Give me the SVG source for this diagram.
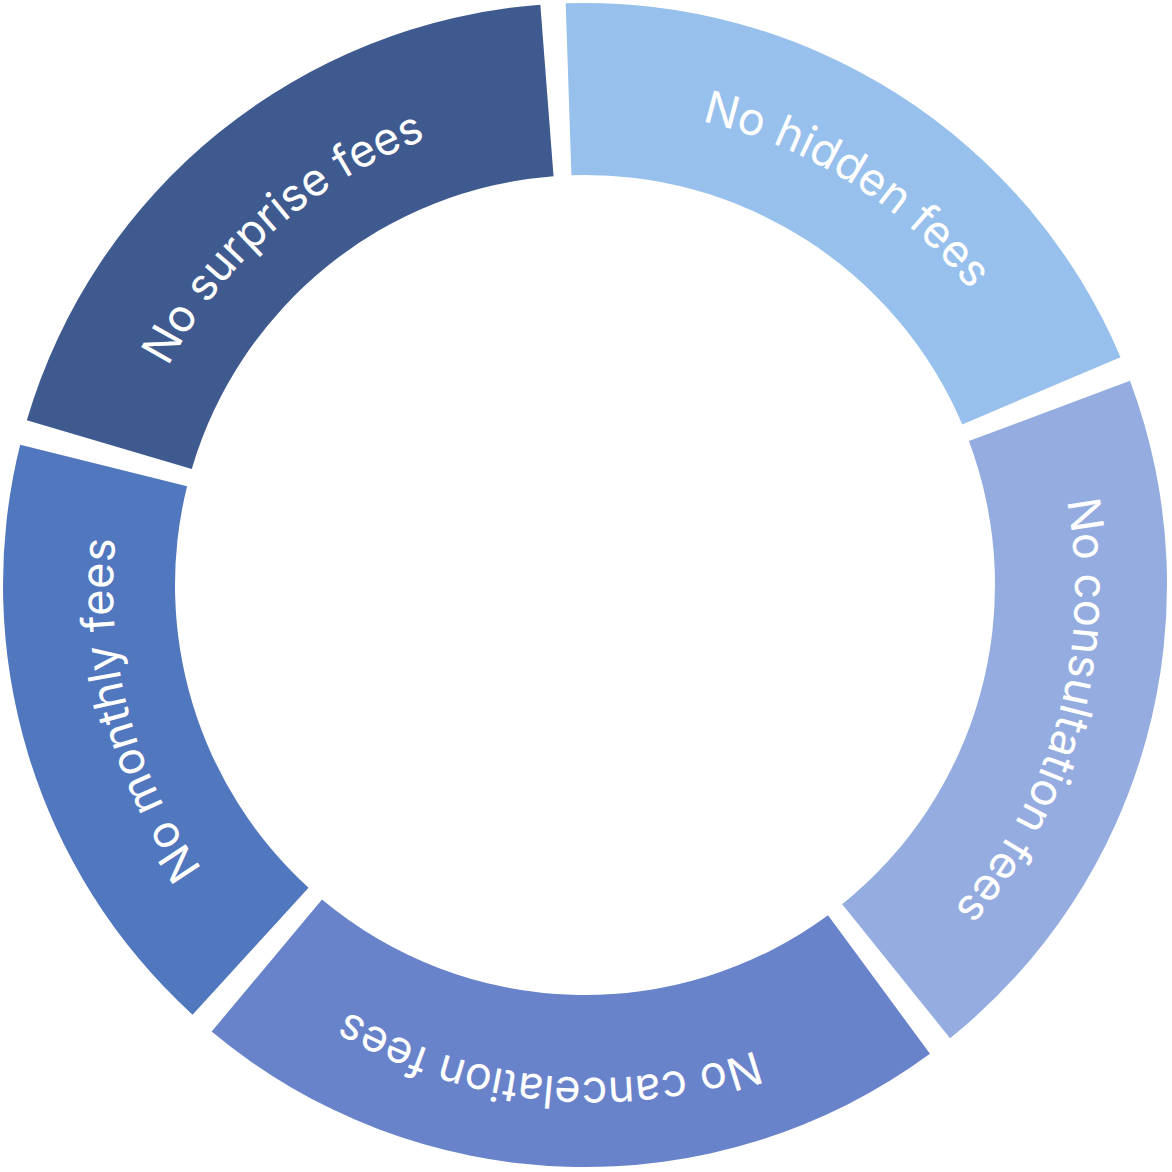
<svg xmlns="http://www.w3.org/2000/svg" width="1172" height="1172" viewBox="0 0 1172 1172">
<style>
.lbl{font-family:Inter,"Noto Sans","Liberation Sans",sans-serif;font-size:45px;fill:#ffffff;font-weight:400}
</style>
<defs>
<path id="p-surprise" d="M183.48,840.61 A481,481 0 0 1 894.09,214.09"/>
<path id="p-hidden" d="M237.68,266.90 A481,481 0 0 1 1039.34,771.74"/>
<path id="p-consult" d="M800.32,155.49 A481,481 0 0 1 548.73,1068.86"/>
<path id="p-cancel" d="M1064.25,720.41 A488,488 0 0 1 107.50,628.29"/>
<path id="p-monthly" d="M633.41,1069.38 A481,481 0 0 1 393.00,153.01"/>
</defs>
<rect width="1172" height="1172" fill="#ffffff"/>
<g id="node-surprise">
<path d="M26.82,420.20 A582,582 0 0 1 540.35,4.72 L553.54,176.21 A410,410 0 0 0 191.78,468.90 Z" fill="#3f5a8f"/>
<text class="lbl"><textPath href="#p-surprise" startOffset="50%" text-anchor="middle">No surprise fees</textPath></text>
</g>
<g id="node-hidden">
<path d="M565.70,3.32 A582,582 0 0 1 1120.53,357.13 L962.27,424.47 A410,410 0 0 0 571.41,175.23 Z" fill="#97c0ec"/>
<text class="lbl"><textPath href="#p-hidden" startOffset="50%" text-anchor="middle">No hidden fees</textPath></text>
</g>
<g id="node-consultation">
<path d="M1129.97,380.70 A582,582 0 0 1 950.08,1038.26 L842.19,904.31 A410,410 0 0 0 968.91,441.08 Z" fill="#94acdf"/>
<text class="lbl"><textPath href="#p-consult" startOffset="50%" text-anchor="middle">No consultation fees</textPath></text>
</g>
<g id="node-cancelation">
<path d="M929.96,1053.75 A582,582 0 0 1 211.68,1031.49 L322.01,899.54 A410,410 0 0 0 828.02,915.22 Z" fill="#6983cb"/>
<text class="lbl"><textPath href="#p-cancel" startOffset="50%" text-anchor="middle">No cancelation fees</textPath></text>
</g>
<g id="node-monthly">
<path d="M192.56,1014.78 A582,582 0 0 1 20.16,444.70 L187.09,486.16 A410,410 0 0 0 308.54,887.76 Z" fill="#5177be"/>
<text class="lbl"><textPath href="#p-monthly" startOffset="50%" text-anchor="middle">No monthly fees</textPath></text>
</g>
<g id="connectors"></g>
</svg>
